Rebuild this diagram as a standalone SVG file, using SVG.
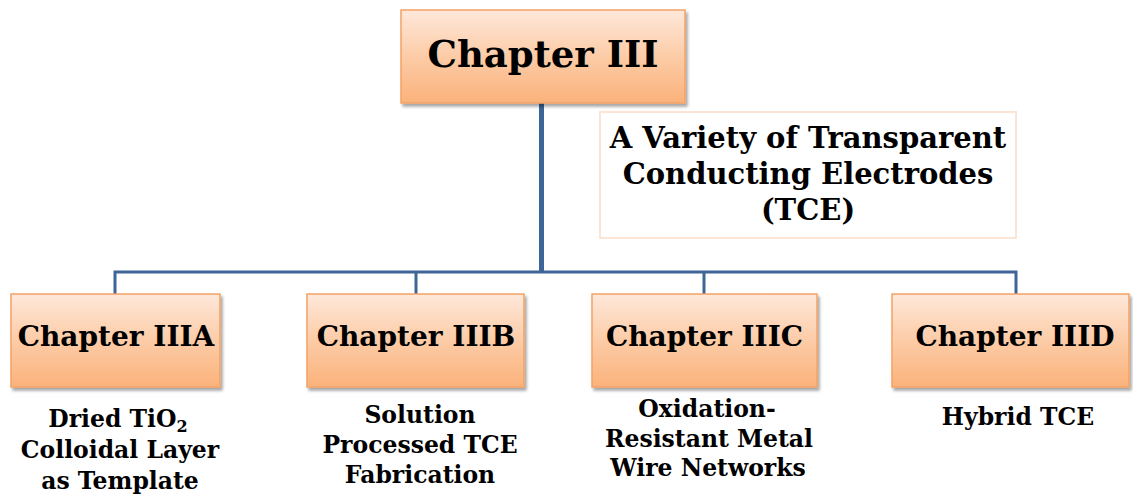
<svg xmlns="http://www.w3.org/2000/svg" width="1133" height="495" viewBox="0 0 1133 495">
<defs>
<linearGradient id="peach" x1="0" y1="0" x2="0" y2="1">
<stop offset="0" stop-color="#fee8da"/>
<stop offset="0.55" stop-color="#fcc9a2"/>
<stop offset="1" stop-color="#fbb27b"/>
</linearGradient>
<filter id="sh" x="-10%" y="-10%" width="125%" height="130%">
<feGaussianBlur in="SourceAlpha" stdDeviation="1.5"/>
<feOffset dx="2" dy="3" result="b"/>
<feComponentTransfer><feFuncA type="linear" slope="0.35"/></feComponentTransfer>
<feMerge><feMergeNode/><feMergeNode in="SourceGraphic"/></feMerge>
</filter>
</defs>
<style>
.box{fill:url(#peach);stroke:#f4a265;stroke-width:1.5;filter:url(#sh)}
.t{font-family:"DejaVu Serif","Liberation Serif",serif;font-weight:bold;fill:#000;text-anchor:middle}
.ch{font-size:28px}
.lb{font-size:23.5px}
.con{stroke:#3d6597;fill:none}
</style>
<g id="connectors">
<line class="con" x1="541.5" y1="103" x2="541.5" y2="272" stroke-width="5"/>
<polyline class="con" points="115,294 115,272 1016,272 1016,294" stroke-width="3"/>
<line class="con" x1="416" y1="272" x2="416" y2="294" stroke-width="3"/>
<line class="con" x1="704" y1="272" x2="704" y2="294" stroke-width="3"/>
</g>
<g id="chapter3">
<rect class="box" x="401" y="10" width="284" height="93"/>
<text class="t" x="543" y="67" font-size="37">Chapter III</text>
</g>
<g id="tce">
<rect x="600" y="112" width="416" height="126" fill="#fff" stroke="#fde5d5" stroke-width="2"/>
<text class="t" x="808" y="148" font-size="29">A Variety of Transparent</text>
<text class="t" x="808" y="184" font-size="29">Conducting Electrodes</text>
<text class="t" x="808" y="220" font-size="29">(TCE)</text>
</g>
<g id="chapter3a">
<rect class="box" x="11" y="294" width="209" height="93"/>
<text class="t ch" x="116" y="346">Chapter IIIA</text>
<text class="t lb" x="118" y="427">Dried TiO<tspan font-size="16" dy="5">2</tspan></text>
<text class="t lb" x="120" y="458">Colloidal Layer</text>
<text class="t lb" x="120" y="489">as Template</text>
</g>
<g id="chapter3b">
<rect class="box" x="307" y="294" width="217" height="93"/>
<text class="t ch" x="416" y="346">Chapter IIIB</text>
<text class="t lb" x="420" y="423">Solution</text>
<text class="t lb" x="420" y="453">Processed TCE</text>
<text class="t lb" x="420" y="483">Fabrication</text>
</g>
<g id="chapter3c">
<rect class="box" x="592" y="294" width="225" height="93"/>
<text class="t ch" x="704.5" y="346">Chapter IIIC</text>
<text class="t lb" x="707" y="417">Oxidation-</text>
<text class="t lb" x="709" y="447">Resistant Metal</text>
<text class="t lb" x="708" y="476">Wire Networks</text>
</g>
<g id="chapter3d">
<rect class="box" x="892" y="294" width="237" height="93"/>
<text class="t ch" x="1015" y="346">Chapter IIID</text>
<text class="t lb" x="1018" y="425">Hybrid TCE</text>
</g>
</svg>
